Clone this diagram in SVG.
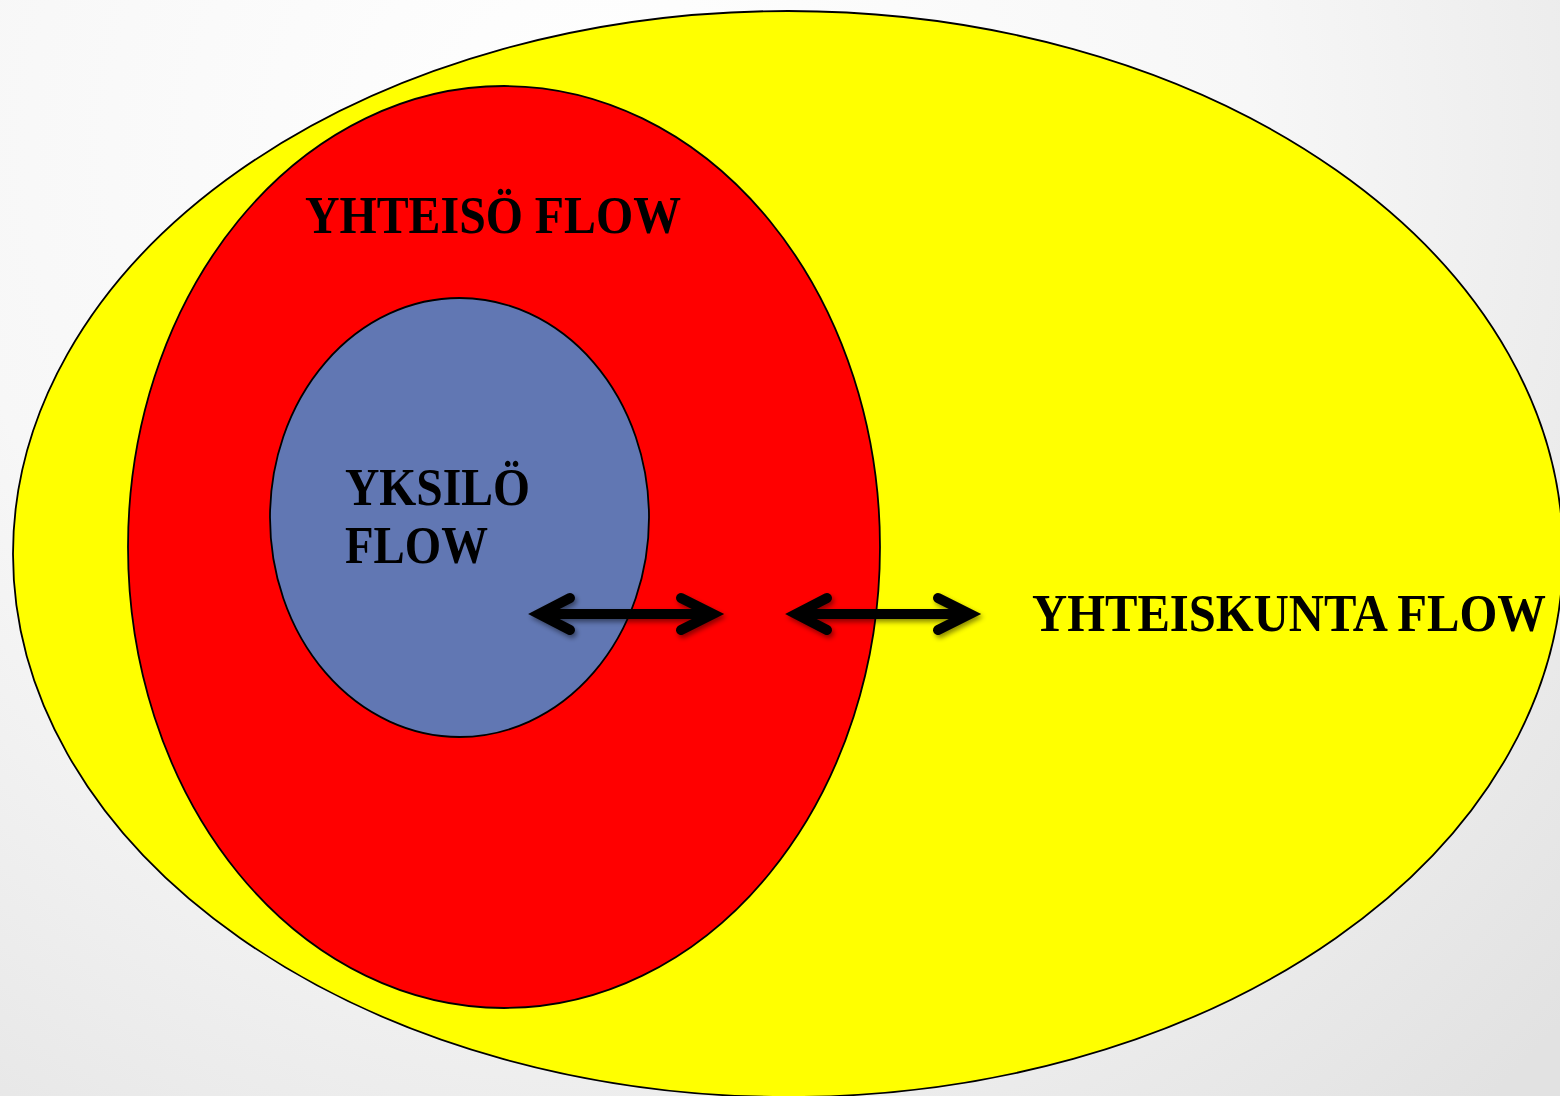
<svg xmlns="http://www.w3.org/2000/svg" width="1560" height="1096" viewBox="0 0 1560 1096">
<defs>
<radialGradient id="bg" gradientUnits="userSpaceOnUse" cx="600" cy="150" r="1300">
<stop offset="0" stop-color="#ffffff"/>
<stop offset="0.5" stop-color="#f7f7f7"/>
<stop offset="1" stop-color="#e2e2e2"/>
</radialGradient>
<filter id="sh" filterUnits="userSpaceOnUse" x="480" y="560" width="560" height="120">
<feDropShadow dx="2" dy="3" stdDeviation="2.5" flood-color="#000" flood-opacity="0.45"/>
</filter>
</defs>
<style>
.ring{stroke:#000;stroke-width:1.8}
.lbl{font-family:"Liberation Serif","DejaVu Serif",serif;font-weight:bold;fill:#000;font-size:53px}
.arr{fill:none;stroke:#000;stroke-width:10;stroke-linecap:round;stroke-linejoin:miter;stroke-miterlimit:10}
</style>
<rect width="1560" height="1096" fill="url(#bg)"/>
<g id="yhteiskunta">
<ellipse class="ring" cx="788" cy="554" rx="775" ry="543" fill="#ffff00"/>
<text class="lbl" x="1032" y="631" textLength="514" lengthAdjust="spacingAndGlyphs">YHTEISKUNTA FLOW</text>
</g>
<g id="yhteiso">
<ellipse class="ring" cx="504" cy="547" rx="376" ry="461" fill="#ff0000"/>
<text class="lbl" x="305" y="233" textLength="376" lengthAdjust="spacingAndGlyphs">YHTEISÖ FLOW</text>
</g>
<g id="yksilo">
<ellipse class="ring" cx="459.5" cy="517.5" rx="189.5" ry="219.5" fill="#6177b3"/>
<text class="lbl" x="345" y="505" textLength="185" lengthAdjust="spacingAndGlyphs">YKSILÖ</text>
<text class="lbl" x="345" y="563" textLength="143" lengthAdjust="spacingAndGlyphs">FLOW</text>
</g>
<g id="connectors" filter="url(#sh)">
<path class="arr" d="M542 614 H710 M570 598 L539 614 L570 630 M681 598 L713 614 L681 630"/>
<path class="arr" d="M799 614 H966 M827 598 L796 614 L827 630 M938 598 L970 614 L938 630"/>
</g>
</svg>
